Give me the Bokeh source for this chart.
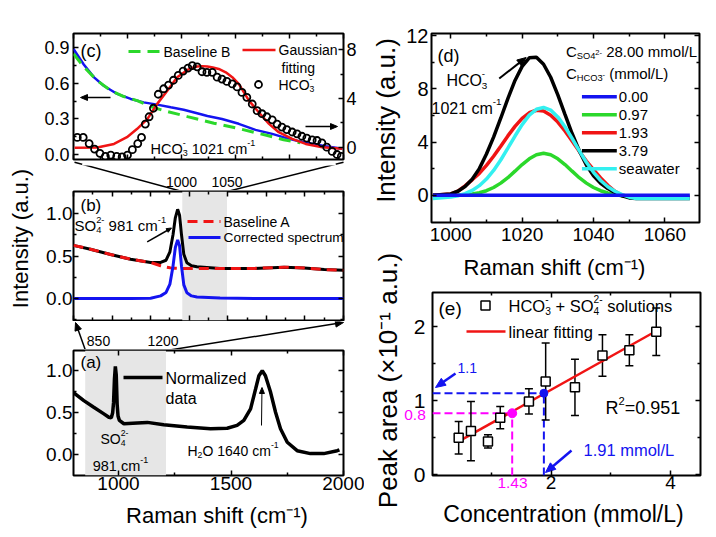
import math
from bokeh.plotting import figure
from bokeh.models import (Range1d, LinearAxis, FixedTicker, PrintfTickFormatter,
                          CustomJSTickFormatter, Label, Arrow, NormalHead, BoxAnnotation)
from bokeh.layouts import row, column
from bokeh.embed import file_html
from bokeh.resources import INLINE

FONT = "Liberation Sans"
BLUE = "#1414F0"
RED = "#F01414"
GREEN = "#2BD82B"
CYAN = "#33F0F0"
MAGENTA = "#FF00FF"
GREY = "#E6E6E6"

# ---------------- data ----------------
# (a) normalized Raman spectrum
a_shift = [800, 846, 890, 935, 957, 968, 974, 978, 982, 986, 990, 994, 998, 1004, 1024, 1083, 1128,
           1201, 1305, 1409, 1483, 1527, 1557, 1587, 1609, 1624, 1639, 1653, 1676, 1698, 1720, 1750,
           1794, 1853, 1912, 1972, 1982]
a_norm = [0.74, 0.645, 0.566, 0.487, 0.447, 0.44, 0.5, 0.62, 0.9, 1.05, 0.95, 0.6, 0.46, 0.41, 0.37,
          0.38, 0.386, 0.357, 0.33, 0.31, 0.316, 0.35, 0.41, 0.547, 0.78, 0.94, 1.0, 0.94, 0.743,
          0.506, 0.31, 0.15, 0.05, 0.015, 0.015, 0.05, 0.06]

# (b) raw spectrum, baseline A, corrected spectrum
b_shift = [850, 872, 898, 924, 950, 963, 970, 975, 979, 982, 985, 987.5, 990, 993, 997, 1003, 1010,
           1040, 1084, 1123, 1149, 1175, 1200]
b_raw = [0.625, 0.58, 0.518, 0.462, 0.424, 0.424, 0.45, 0.55, 0.75, 0.95, 1.05, 0.98, 0.75, 0.52,
         0.42, 0.385, 0.373, 0.353, 0.353, 0.368, 0.36, 0.34, 0.333]
b_baseline = [0.625, 0.58, 0.518, 0.462, 0.424, 0.385, 0.37, 0.362, 0.357, 0.355, 0.354, 0.354,
              0.354, 0.354, 0.354, 0.354, 0.354, 0.353, 0.353, 0.368, 0.36, 0.34, 0.333]
b_corrected = [0.0, 0.0, 0.0, 0.0, 0.003, 0.03, 0.07, 0.17, 0.38, 0.6, 0.69, 0.62, 0.38, 0.16,
               0.066, 0.03, 0.018, 0.005, 0.0, 0.0, 0.0, 0.0, 0.0]

# (c) zoom 1000-1050: HCO3- data (right axis, x1e-3), gaussian fit (right), spectrum & baseline B (left, x1e-1)
c_circ_x = [1000.7, 1001.8, 1002.9, 1003.9, 1004.9, 1005.9, 1006.9, 1008.0, 1009.0, 1010.0, 1010.9,
            1011.9, 1012.6, 1013.3, 1014.0, 1014.8, 1015.7, 1016.7, 1017.6, 1018.5, 1019.4, 1020.3,
            1021.2, 1022.0, 1022.9, 1023.8, 1024.7, 1025.7, 1026.6, 1027.5, 1028.4, 1029.4, 1030.3,
            1031.2, 1032.1, 1033.1, 1034.0, 1034.9, 1035.8, 1036.8, 1037.7, 1038.6, 1039.5, 1040.5,
            1041.4, 1042.3, 1043.2, 1044.2, 1045.1, 1046.0, 1046.9, 1047.9, 1048.8, 1049.6]
c_circ_y = [0.8, 0.8, 0.3, -0.15, -0.5, -0.75, -0.65, -0.75, -0.8, -0.65, -0.2, 0.3, 0.8, 1.9, 2.5,
            3.2, 4.35, 4.8, 5.1, 5.5, 5.9, 6.25, 6.5, 6.7, 6.6, 6.2, 6.15, 6.15, 5.75, 5.6, 5.4, 5.2,
            4.95, 4.5, 4.1, 3.55, 3.0, 2.75, 2.5, 2.25, 1.9, 1.65, 1.45, 1.25, 1.1, 0.9, 0.75, 0.6,
            0.55, 0.35, 0.0, -0.35, -0.6, -0.75]
c_fit_x = [1000.2, 1004.4, 1007.5, 1009.9, 1011.8, 1013.7, 1015.5, 1017.4, 1019.2, 1021.1, 1022.0,
           1022.9, 1023.9, 1024.8, 1025.8, 1026.9, 1028.2, 1029.4, 1030.6, 1031.5, 1032.5, 1034.3,
           1036.2, 1038.0, 1040.5, 1043.0, 1046.1, 1049.8]
c_fit_y = [-0.05, -0.02, 0.27, 0.82, 1.51, 2.33, 3.56, 4.65, 5.75, 6.35, 6.52, 6.63, 6.66, 6.63, 6.55,
           6.43, 6.15, 5.75, 5.2, 4.55, 3.83, 2.87, 1.92, 1.23, 0.69, 0.27, 0.0, -0.13]
c_spec_x = [1000.0, 1001.9, 1003.8, 1005.6, 1008.1, 1010.6, 1013.0, 1015.5, 1018.0, 1020.4, 1022.9,
            1024.8, 1027.5, 1030.6, 1033.7, 1036.8, 1039.9, 1043.0, 1046.7, 1049.8]
c_spec_y = [0.89, 0.76, 0.651, 0.58, 0.511, 0.469, 0.44, 0.421, 0.398, 0.377, 0.348, 0.325, 0.3,
            0.259, 0.208, 0.174, 0.132, 0.10, 0.07, 0.048]
c_base_x = [1000.0, 1001.9, 1004.4, 1006.9, 1009.3, 1011.8, 1014.3, 1016.7, 1021.1, 1026.0, 1030.9,
            1035.9, 1038.9, 1042.0]
c_base_y = [0.85, 0.74, 0.623, 0.539, 0.489, 0.455, 0.404, 0.371, 0.32, 0.264, 0.216, 0.16, 0.125,
            0.10]

# (d) HCO3- bands for several concentrations
d_shift = [995, 1000, 1002, 1004, 1006, 1008, 1010, 1012, 1014, 1016, 1018, 1020, 1022, 1024, 1026,
           1028, 1030, 1032, 1034, 1036, 1038, 1040, 1042, 1044, 1046, 1048, 1050, 1052, 1067]
d_000_shift = [995, 1067]
d_000 = [0.0, 0.0]
d_097 = [0.0, 0.0, 0.01, 0.05, 0.1, 0.19, 0.34, 0.58, 0.91, 1.32, 1.81, 2.31, 2.74, 3.04, 3.15, 3.04,
         2.74, 2.31, 1.81, 1.32, 0.91, 0.58, 0.34, 0.17, 0.05, -0.05, -0.1, -0.15, -0.15]
d_193 = [0.0, 0.1, 0.3, 0.7, 1.16, 1.64, 2.24, 2.93, 3.69, 4.46, 5.18, 5.78, 6.2, 6.39, 6.33, 6.02,
         5.5, 4.83, 4.08, 3.3, 2.57, 1.93, 1.3, 0.75, 0.3, 0.0, -0.1, -0.15, -0.15]
d_379 = [0.0, 0.1, 0.3, 0.65, 1.2, 2.0, 3.1, 4.37, 5.79, 7.27, 8.63, 9.69, 10.33, 10.38, 9.85, 8.87,
         7.55, 6.08, 4.64, 3.35, 2.28, 1.47, 0.9, 0.5, 0.2, -0.05, -0.2, -0.25, -0.25]
d_sea = [-0.25, -0.14, -0.04, 0.12, 0.36, 0.72, 1.22, 1.86, 2.65, 3.54, 4.45, 5.31, 6.02, 6.46, 6.6,
         6.4, 5.89, 5.15, 4.27, 3.35, 2.48, 1.72, 1.11, 0.64, 0.3, 0.05, -0.15, -0.25, -0.25]
d_labels = ["0.00", "0.97", "1.93", "3.79", "seawater"]

# (e) peak area vs concentration
e_conc = [0.455, 0.66, 0.945, 1.15, 1.63, 1.91, 2.4, 2.86, 3.31, 3.76]
e_area = [0.50, 0.59, 0.45, 0.77, 0.99, 1.26, 1.18, 1.61, 1.68, 1.93]
e_err = [0.22, 0.40, 0.09, 0.15, 0.17, 0.52, 0.38, 0.28, 0.21, 0.32]
e_fit_x = [0.455, 3.76]
e_fit_y = [0.45, 1.94]
e_sample = [1.35, 0.83]     # magenta read-off (conc, area)
e_seawater = [1.88, 1.10]   # blue read-off (conc, area)
e_sample_labels = ["1.43", "0.8"]

# ---------------- helpers ----------------
W = {' ': 278, '(': 333, ')': 333, '.': 278, '-': 333, '/': 278, '=': 584, '+': 584, '×': 584,
     'A': 667, 'B': 667, 'C': 722, 'G': 778, 'H': 722, 'L': 556, 'N': 722, 'O': 778, 'R': 722,
     'S': 667, 'a': 556, 'c': 500, 'd': 556, 'e': 556, 'f': 278, 'g': 556, 'h': 556, 'i': 222,
     'l': 222, 'm': 833, 'n': 556, 'o': 556, 'p': 556, 'r': 333, 's': 500, 't': 278, 'u': 556,
     'w': 722, 'z': 500, 'y': 500, 'k': 500}


def tw(s, size):
    return sum(W.get(ch, 556) for ch in s) * size / 1000.0


def no_align(p):
    try:
        p.frame_align = False
    except Exception:
        pass


class Panel:
    def __init__(self, fig, fx, fy, xr, yr):
        self.fig, self.fx, self.fy, self.xr, self.yr = fig, fx, fy, xr, yr

    def d(self, px, py):
        (x0, x1), (y0, y1) = self.fx, self.fy
        (a0, a1), (b0, b1) = self.xr, self.yr
        return a0 + (px - x0) / (x1 - x0) * (a1 - a0), b1 - (py - y0) / (y1 - y0) * (b1 - b0)

    def xpx(self, n):
        (x0, x1), (a0, a1) = self.fx, self.xr
        return n * (a1 - a0) / (x1 - x0)


def make_fig(left, top, width, height, fx, fy, xr, yr):
    p = figure(width=width, height=height, x_range=Range1d(*xr), y_range=Range1d(*yr),
               x_axis_type=None, y_axis_type=None, toolbar_location=None, output_backend="svg",
               min_border_left=fx[0] - left, min_border_right=left + width - fx[1],
               min_border_top=fy[0] - top, min_border_bottom=top + height - fy[1])
    p.outline_line_color = "black"
    p.outline_line_width = 2
    p.background_fill_color = "white"
    p.border_fill_color = "white"
    no_align(p)
    return p, Panel(p, fx, fy, xr, yr)


def kfig(left, top, width, height, fill="white"):
    # plain drawing area in page pixels (used for titles and connector lines)
    p = figure(width=width, height=height, x_range=Range1d(left, left + width),
               y_range=Range1d(top + height, top), x_axis_type=None, y_axis_type=None,
               toolbar_location=None, output_backend="svg", min_border=0, min_border_left=0,
               min_border_right=0, min_border_top=0, min_border_bottom=0)
    p.outline_line_color = None
    p.border_fill_color = fill
    p.background_fill_color = fill
    no_align(p)
    return p, Panel(p, (left, left + width), (top, top + height), (left, left + width),
                    (top + height, top))


def add_axis(p, side, major, minor, labels=True, size=19, fmt="%.1f", standoff=3, range_name=None):
    kw = {"y_range_name": range_name} if range_name else {}
    ax = LinearAxis(**kw)
    ax.ticker = FixedTicker(ticks=major, minor_ticks=minor)
    ax.major_tick_in = 5
    ax.major_tick_out = 0
    ax.minor_tick_in = 3
    ax.minor_tick_out = 0
    ax.major_tick_line_width = 1.5
    ax.minor_tick_line_width = 1.5
    ax.major_tick_line_color = "black"
    ax.minor_tick_line_color = "black"
    ax.axis_line_color = None
    if labels:
        ax.formatter = PrintfTickFormatter(format=fmt)
        ax.major_label_text_font = FONT
        ax.major_label_text_font_size = f"{size}px"
        ax.major_label_text_color = "black"
        ax.major_label_standoff = standoff
    else:
        ax.formatter = CustomJSTickFormatter(code="return ''")
        ax.major_label_text_font_size = "0px"
        ax.major_label_standoff = 0
    p.add_layout(ax, side)
    return ax


def txt(P, px, py, s, size, color="black", align="left", angle=0.0):
    x, y = P.d(px, py)
    P.fig.add_layout(Label(x=x, y=y, text=s, text_font=FONT, text_font_size=f"{size}px",
                           text_color=color, text_align=align, text_baseline="middle",
                           angle=angle))


def rich(P, px, py, parts, size, color="black", align="left"):
    sm = round(size * 0.62, 1)
    tiny = round(size * 0.5, 1)

    def width(q):
        k = q[0]
        if k == "n":
            return tw(q[1], size)
        if k in ("sup", "sub"):
            return tw(q[1], sm)
        if k == "ss":
            return max(tw(q[1], sm), tw(q[2], sm))
        if k == "tiny":
            return tw(q[1], tiny)
        return 0

    total = sum(width(q) for q in parts)
    x = px - total / 2 if align == "center" else px
    for q in parts:
        k = q[0]
        if k == "n":
            s = q[1]
            lead = len(s) - len(s.lstrip(" "))
            txt(P, x + tw(" " * lead, size), py, s.lstrip(" "), size, color)
        elif k == "sup":
            txt(P, x, py - 0.38 * size, q[1], sm, color)
        elif k == "sub":
            txt(P, x, py + 0.32 * size, q[1], sm, color)
        elif k == "ss":
            txt(P, x, py - 0.38 * size, q[1], sm, color)
            txt(P, x, py + 0.32 * size, q[2], sm, color)
        elif k == "tiny":
            txt(P, x, py + 0.08 * size, q[1], tiny, color)
        x += width(q)


def head_arrow(P, tail, head, color="black", width=1.5, size=8):
    # Bokeh Arrow annotation (used where only the head must show outside a frame)
    x0, y0 = P.d(*tail)
    x1, y1 = P.d(*head)
    P.fig.add_layout(Arrow(x_start=x0, y_start=y0, x_end=x1, y_end=y1, line_color=color,
                           line_width=width,
                           end=NormalHead(size=size, fill_color=color, line_color=color,
                                          line_width=1)))


def garrow(P, tail, head, color="black", width=1.5, size=8):
    # arrow drawn with glyphs: a line and a filled triangular head
    (tx, ty), (hx, hy) = tail, head
    L = math.hypot(hx - tx, hy - ty)
    ux, uy = (hx - tx) / L, (hy - ty) / L
    bx, by = hx - ux * size, hy - uy * size
    nx, ny = -uy, ux
    hw = size * 0.42
    pts = [(hx, hy), (bx + nx * hw, by + ny * hw), (bx - nx * hw, by - ny * hw)]
    lx0, ly0 = P.d(tx, ty)
    lx1, ly1 = P.d(bx + ux, by + uy)
    P.fig.line([lx0, lx1], [ly0, ly1], line_color=color, line_width=width)
    xs, ys = zip(*[P.d(*q) for q in pts])
    P.fig.patch(list(xs), list(ys), fill_color=color, line_color=color, line_width=1)


def seg(P, px0, px1, py, color, width, dash="solid"):
    x0, y = P.d(px0, py)
    x1, _ = P.d(px1, py)
    P.fig.line([x0, x1], [y, y], line_color=color, line_width=width, line_dash=dash)


# ---------------- strips with y-axis titles ----------------
pLS, PLS = kfig(0, 0, 40, 529)
txt(PLS, 20, 238, "Intensity (a.u.)", 22, align="center", angle=math.pi / 2)

pRS, PRS = kfig(364, 0, 39, 529)
txt(PRS, 385, 120, "Intensity (a.u.)", 26, align="center", angle=math.pi / 2)
txt(PRS, 387, 380, "Peak area (×10⁻¹ a.u.)", 26, align="center", angle=math.pi / 2)

# ---------------- panel (c) ----------------
pC, PC = make_fig(40, 0, 324, 165, (73, 343), (33, 159), (1000, 1050), (-0.042, 1.021))
pC.extra_y_ranges = {"r": Range1d(-1.01, 9.34)}
add_axis(pC, "left", [0, 0.3, 0.6, 0.9], [0.15, 0.45, 0.75], size=18, fmt="%.1f", standoff=4)
add_axis(pC, "right", [0, 4, 8], [2, 6], size=18, fmt="%d", standoff=3, range_name="r")
cx_major = [1000, 1010, 1020, 1030, 1040, 1050]
cx_minor = [1005, 1015, 1025, 1035, 1045]
add_axis(pC, "below", cx_major, cx_minor, labels=False)
add_axis(pC, "above", cx_major, cx_minor, labels=False)
pC.line(c_spec_x, c_spec_y, line_color=BLUE, line_width=2.5)
pC.line(c_base_x, c_base_y, line_color=GREEN, line_width=3, line_dash="12 7")
pC.line(c_fit_x, c_fit_y, y_range_name="r", line_color=RED, line_width=2.5)
pC.scatter(c_circ_x, c_circ_y, y_range_name="r", marker="circle", size=7, fill_color=None,
           line_color="black", line_width=1.8)
txt(PC, 80, 50, "(c)", 18)
seg(PC, 128, 160, 51, GREEN, 3, "12 7")
txt(PC, 163, 51, "Baseline B", 14)
seg(PC, 242, 275, 49.5, RED, 2.5)
txt(PC, 278, 49, "Gaussian", 14)
txt(PC, 281, 67, "fitting", 14)
cx_m, cy_m = PC.d(258, 84)
pC.scatter([cx_m], [cy_m], marker="circle", size=7, fill_color=None, line_color="black",
           line_width=1.8)
rich(PC, 278, 84, [("n", "HCO"), ("ss", "-", "3")], 14)
garrow(PC, (110, 97), (80, 97), size=7)
garrow(PC, (305, 126), (337, 126), size=7)
rich(PC, 150, 148, [("n", "HCO"), ("ss", "-", "3"), ("n", " 1021 cm"), ("sup", "-1")], 14.5)
rich(PC, 53, 26, [("n", "×10"), ("sup", "-1")], 18)
rich(PC, 323, 26, [("n", "×10"), ("sup", "-3")], 18)
# arrow heads at the corners of (c), pointing back from the zoom window in (b)
head_arrow(PC, (181.7, 191), (74, 161.7), size=8)
head_arrow(PC, (226.7, 191), (343, 161.7), size=8)

# connector between (c) and (b)
pK1, PK1 = kfig(40, 165, 324, 25)
pK1.line([74, 181.7], [161.7, 191], line_color="black", line_width=1.5)
pK1.line([343, 226.7], [161.7, 191], line_color="black", line_width=1.5)
txt(PK1, 181, 181.5, "1000", 14, align="center")
txt(PK1, 226.5, 181.5, "1050", 14, align="center")

# ---------------- panel (b) ----------------
pB, PB = make_fig(40, 190, 324, 131, (73, 343), (191, 320), (850, 1200), (-0.26, 1.26))
add_axis(pB, "left", [0, 0.5, 1.0], [-0.25, 0.25, 0.75], size=19, fmt="%.1f", standoff=1)
add_axis(pB, "right", [0, 0.5, 1.0], [-0.25, 0.25, 0.75], labels=False)
bx_major = [850, 900, 950, 1000, 1050, 1100, 1150, 1200]
bx_minor = [875, 925, 975, 1025, 1075, 1125, 1175]
add_axis(pB, "below", bx_major, bx_minor, labels=False)
add_axis(pB, "above", bx_major, bx_minor, labels=False)
pB.add_layout(BoxAnnotation(left=991, right=1049, fill_color=GREY, fill_alpha=1.0,
                            line_color=None, level="underlay"))
pB.line(b_shift, b_raw, line_color="black", line_width=3)
pB.line(b_shift, b_baseline, line_color=RED, line_width=3, line_dash="10 6")
pB.line(b_shift, b_corrected, line_color=BLUE, line_width=3)
txt(PB, 80, 205, "(b)", 17)
rich(PB, 74, 225, [("n", "SO"), ("ss", "2-", "4"), ("n", " 981 cm"), ("sup", "-1")], 15)
garrow(PB, (146.7, 241.3), (171, 227.5), width=1.5, size=5)
seg(PB, 187, 220, 221, RED, 3, "10 6")
txt(PB, 223, 221, "Baseline A", 14)
seg(PB, 188, 220, 237, BLUE, 3)
txt(PB, 223, 237, "Corrected spectrum", 13.7)

# connector between (b) and (a)
pK2, PK2 = kfig(40, 321, 324, 28)
garrow(PK2, (85, 350), (75, 322), size=8)
garrow(PK2, (166, 350), (343, 322), size=8)
txt(PK2, 98, 340.5, "850", 14, align="center")
txt(PK2, 162.5, 340.5, "1200", 14, align="center")

# ---------------- panel (a) ----------------
pA, PA = make_fig(40, 349, 324, 150, (73, 343), (350, 475), (800, 2000), (-0.245, 1.24))
add_axis(pA, "left", [0, 0.5, 1.0], [0.25, 0.75], size=19, fmt="%.1f", standoff=1)
add_axis(pA, "right", [0, 0.5, 1.0], [0.25, 0.75], labels=False)
add_axis(pA, "below", [1000, 1500, 2000], [1250, 1750], size=19, fmt="%d", standoff=1)
add_axis(pA, "above", [1000, 1500, 2000], [1250, 1750], labels=False)
pA.add_layout(BoxAnnotation(left=852, right=1211, fill_color=GREY, fill_alpha=1.0,
                            line_color=None, level="underlay"))
pA.line(a_shift, a_norm, line_color="black", line_width=3.5)
txt(PA, 80, 362, "(a)", 17)
seg(PA, 123, 162, 377, "black", 3.5)
txt(PA, 165, 378, "Normalized", 16)
txt(PA, 165, 398, "data", 16)
rich(PA, 114, 438, [("n", "SO"), ("ss", "2-", "4")], 14, align="center")
rich(PA, 120, 465, [("n", "981 cm"), ("sup", "-1")], 14.5, align="center")
rich(PA, 187, 450, [("n", "H"), ("sub", "2"), ("n", "O 1640 cm"), ("sup", "-1")], 14)
garrow(PA, (261, 425), (261.5, 387), width=1, size=6)

pK3, PK3 = kfig(40, 499, 324, 30)
txt(PK3, 216.5, 515, "Raman shift (cm⁻¹)", 22, align="center")

# ---------------- panel (d) ----------------
pD, PD = make_fig(403, 0, 305, 252, (430, 699), (33, 222), (994.6, 1069.7), (-2.05, 12.16))
add_axis(pD, "left", [0, 4, 8, 12], [2, 6, 10], size=20, fmt="%d", standoff=3)
add_axis(pD, "right", [0, 4, 8, 12], [2, 6, 10], labels=False)
add_axis(pD, "below", [1000, 1020, 1040, 1060], [1010, 1030, 1050], size=19, fmt="%d", standoff=5)
add_axis(pD, "above", [1000, 1020, 1040, 1060], [1010, 1030, 1050], labels=False)
d_series = [(d_097, GREEN), (d_193, RED), (d_379, "black"), (d_sea, CYAN)]
for ys, col in d_series:
    pD.line(d_shift, ys, line_color=col, line_width=3.5)
pD.line(d_000_shift, d_000, line_color=BLUE, line_width=3.5)
txt(PD, 436, 55, "(d)", 18)
rich(PD, 565, 51, [("n", "C"), ("sub", "SO4"), ("tiny", "2-"), ("n", " 28.00 mmol/L")], 15)
rich(PD, 565, 73, [("n", "C"), ("sub", "HCO3"), ("tiny", "-"), ("n", " (mmol/L)")], 15)
leg_cols = [BLUE, GREEN, RED, "black", CYAN]
for i, (lab, col) in enumerate(zip(d_labels, leg_cols)):
    yy = 96.3 + i * 18.0
    seg(PD, 581, 616, yy, col, 3.5)
    txt(PD, 618, yy, lab, 15)
rich(PD, 445, 80, [("n", "HCO"), ("ss", "-", "3")], 16)
rich(PD, 430, 108, [("n", "1021 cm"), ("sup", "-1")], 16)
garrow(PD, (498, 78), (525, 57), width=2, size=9)

pK4, PK4 = kfig(403, 252, 305, 31)
txt(PK4, 554, 267, "Raman shift (cm⁻¹)", 22, align="center")

# ---------------- panel (e) ----------------
pE, PE = make_fig(403, 283, 305, 216, (432, 700), (292, 475), (0.017, 4.5), (-0.01, 2.46))
add_axis(pE, "left", [0, 1, 2], [0.5, 1.5], size=21, fmt="%d", standoff=7)
add_axis(pE, "right", [0, 1, 2], [0.5, 1.5], labels=False)
add_axis(pE, "below", [0, 2, 4], [1, 3], size=19, fmt="%d", standoff=0)
add_axis(pE, "above", [0, 2, 4], [1, 3], labels=False)
x_lo, y_lo = 0.017, -0.01
pE.line([x_lo, e_sample[0]], [e_sample[1], e_sample[1]], line_color=MAGENTA, line_width=2,
        line_dash="8 4")
pE.line([e_sample[0], e_sample[0]], [y_lo, e_sample[1]], line_color=MAGENTA, line_width=2,
        line_dash="8 4")
pE.line([x_lo, e_seawater[0]], [e_seawater[1], e_seawater[1]], line_color=BLUE, line_width=2,
        line_dash="8 4")
pE.line([e_seawater[0], e_seawater[0]], [y_lo, e_seawater[1]], line_color=BLUE, line_width=2,
        line_dash="8 4")
e_lo = [a - e for a, e in zip(e_area, e_err)]
e_hi = [a + e for a, e in zip(e_area, e_err)]
cap = PE.xpx(4)
pE.segment(x0=e_conc, y0=e_lo, x1=e_conc, y1=e_hi, line_color="black", line_width=1.5)
pE.segment(x0=[c - cap for c in e_conc], y0=e_hi, x1=[c + cap for c in e_conc], y1=e_hi,
           line_color="black", line_width=1.5)
pE.segment(x0=[c - cap for c in e_conc], y0=e_lo, x1=[c + cap for c in e_conc], y1=e_lo,
           line_color="black", line_width=1.5)
pE.line(e_fit_x, e_fit_y, line_color=RED, line_width=2.5)
pE.scatter(e_conc, e_area, marker="square", size=9, fill_color="white",
           line_color="black", line_width=1.5)
pE.scatter([e_sample[0]], [e_sample[1]], marker="circle", size=9, fill_color=MAGENTA,
           line_color=MAGENTA)
pE.scatter([e_seawater[0]], [e_seawater[1]], marker="circle", size=8, fill_color=BLUE,
           line_color=BLUE)
txt(PE, 438, 308, "(e)", 19)
mx, my = PE.d(485, 305)
pE.scatter([mx], [my], marker="square", size=9, fill_color="white", line_color="black",
           line_width=1.5)
rich(PE, 508, 305, [("n", "HCO"), ("ss", "-", "3"), ("n", " + SO"), ("ss", "2-", "4"),
                    ("n", " solutions")], 16.5)
seg(PE, 466, 505, 331, RED, 2.5)
txt(PE, 508, 331, "linear fitting", 16.5)
rich(PE, 605, 407, [("n", "R"), ("sup", "2"), ("n", "=0.951")], 18)
txt(PE, 583, 449, "1.91 mmol/L", 16.5, color=BLUE)
garrow(PE, (571, 450), (545, 472), color=BLUE, width=2.5, size=10)
txt(PE, 457, 367, "1.1", 14, color=BLUE)
garrow(PE, (455, 373), (435, 387), color=BLUE, width=2.5, size=10)

# transparent overlay on top of (e): read-off values beside its axes and the x-axis title
pK5, PK5 = kfig(403, 283, 305, 246, fill=None)
pK5.margin = (-216, 0, 0, 0)
txt(PK5, 414.5, 414, e_sample_labels[1], 15.5, color=MAGENTA, align="center")
txt(PK5, 512, 482, e_sample_labels[0], 15.5, color=MAGENTA, align="center")
txt(PK5, 563, 513, "Concentration (mmol/L)", 23, align="center")

layout = row(pLS, column(pC, pK1, pB, pK2, pA, pK3), pRS, column(pD, pK4, pE, pK5))
open("out.html", "w").write(file_html(layout, INLINE))
